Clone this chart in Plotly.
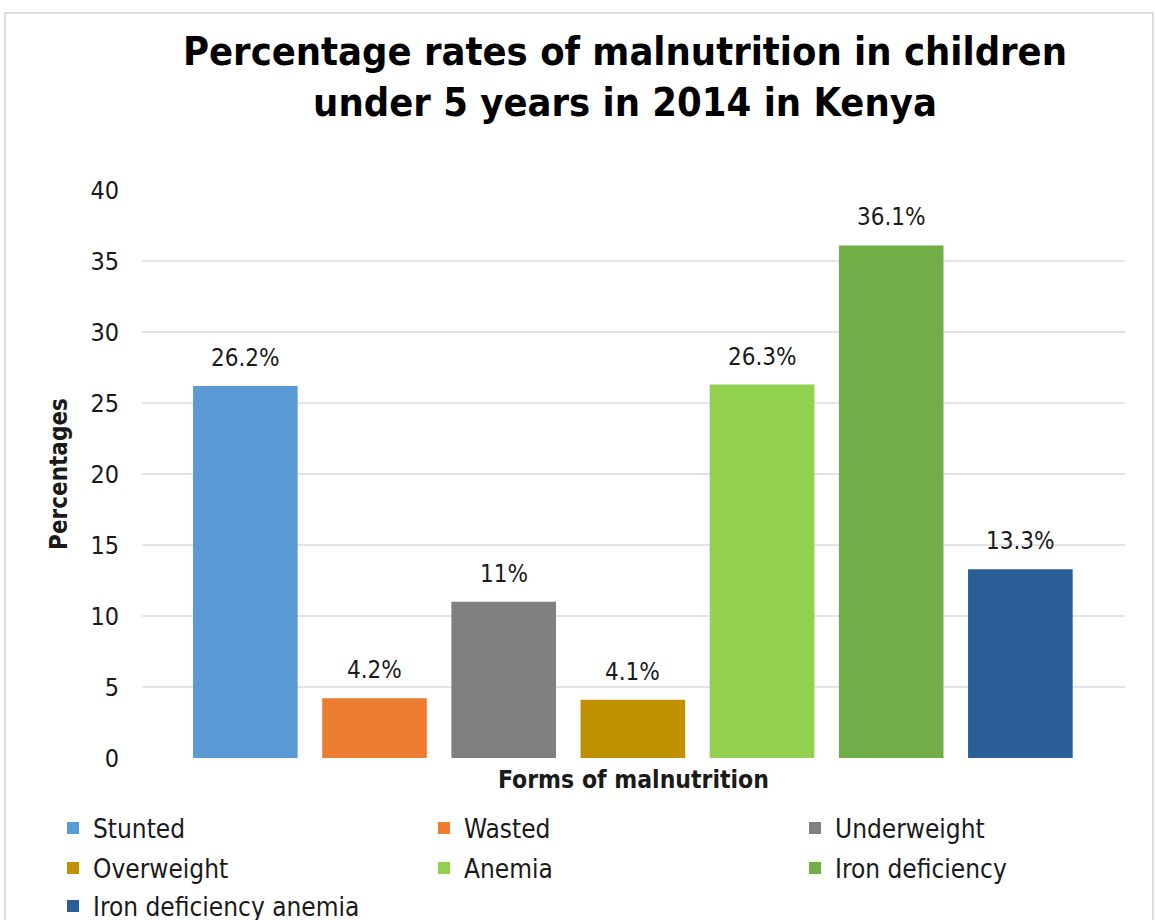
import plotly.graph_objects as go

categories = ["Stunted", "Wasted", "Underweight", "Overweight", "Anemia",
              "Iron deficiency", "Iron deficiency anemia"]
values = [26.2, 4.2, 11, 4.1, 26.3, 36.1, 13.3]
colors = ["#5b9bd5", "#ed7d31", "#808080", "#bf9000", "#92d050",
          "#71ae48", "#2a5e96"]
y_ticks = [0, 5, 10, 15, 20, 25, 30, 35, 40]

FONT = "DejaVu Sans Condensed, DejaVu Sans"
W, H = 1155, 920
L, R, T, B = 142, 30, 190, 162

# legend grid (layout positions, px): 3 columns x 3 rows
legend_cols_px = [53, 424, 795]
legend_rows_px = [828, 868, 906]

fig = go.Figure()
for i, (cat, val, col) in enumerate(zip(categories, values, colors)):
    lg = "legend" if i == 0 else f"legend{i + 1}"
    fig.add_trace(go.Bar(
        x=[cat], y=[val], name=cat, marker=dict(color=col, line=dict(width=0)),
        width=0.81, legend=lg, showlegend=True, hoverinfo="x+y",
    ))
    fig.add_annotation(
        x=cat, y=val, text=f"{val:g}%", showarrow=False, yanchor="bottom",
        yshift=12, font=dict(family=FONT, size=24, color="#1a1a1a"),
    )

pw = W - L - R
ph = H - T - B


def px_x(p):
    return (p - L) / pw


def px_y(p):
    return (H - B - p) / ph


fig.add_shape(type="rect", xref="paper", yref="paper",
              x0=px_x(5), x1=px_x(1153), y0=px_y(940), y1=px_y(13),
              line=dict(color="#d9dde3", width=2), fillcolor="rgba(0,0,0,0)",
              layer="below")

legend_common = dict(orientation="h", xref="container", yref="container",
                     xanchor="left", yanchor="middle",
                     font=dict(family=FONT, size=26, color="#1a1a1a"),
                     bgcolor="rgba(0,0,0,0)", itemclick=False, itemdoubleclick=False)
legends = {}
for i in range(len(categories)):
    key = "legend" if i == 0 else f"legend{i + 1}"
    cx = legend_cols_px[i % 3]
    cy = legend_rows_px[i // 3]
    legends[key] = dict(legend_common, x=cx / W, y=1 - cy / H)

fig.update_layout(
    width=W, height=H,
    margin=dict(l=L, r=R, t=T, b=B),
    paper_bgcolor="white", plot_bgcolor="white",
    barmode="overlay",
    font=dict(family=FONT, color="#1a1a1a"),
    title=dict(
        text="<b>Percentage rates of malnutrition in children<br>under 5 years in 2014 in Kenya</b>",
        x=625 / W, xref="container", xanchor="center",
        y=1 - 65 / H, yref="container", yanchor="middle",
        font=dict(family=FONT, size=39.5, color="#000000"),
    ),
    xaxis=dict(
        range=[-0.8, 6.81], showticklabels=False, showgrid=False,
        zeroline=False, showline=False, ticks="",
        title=dict(text="<b>Forms of malnutrition</b>", standoff=12,
                   font=dict(family=FONT, size=24.5, color="#1a1a1a")),
    ),
    yaxis=dict(
        range=[0, 40], tickvals=y_ticks, showgrid=True, gridcolor="#e1e5eb",
        gridwidth=2, zeroline=False, showline=False, ticks="",
        ticklabelstandoff=22,
        tickfont=dict(family=FONT, size=25, color="#1a1a1a"),
        title=dict(text="<b>Percentages</b>", standoff=15,
                   font=dict(family=FONT, size=24, color="#1a1a1a")),
    ),
    showlegend=True,
    **legends,
)

fig.write_html("out.html")
